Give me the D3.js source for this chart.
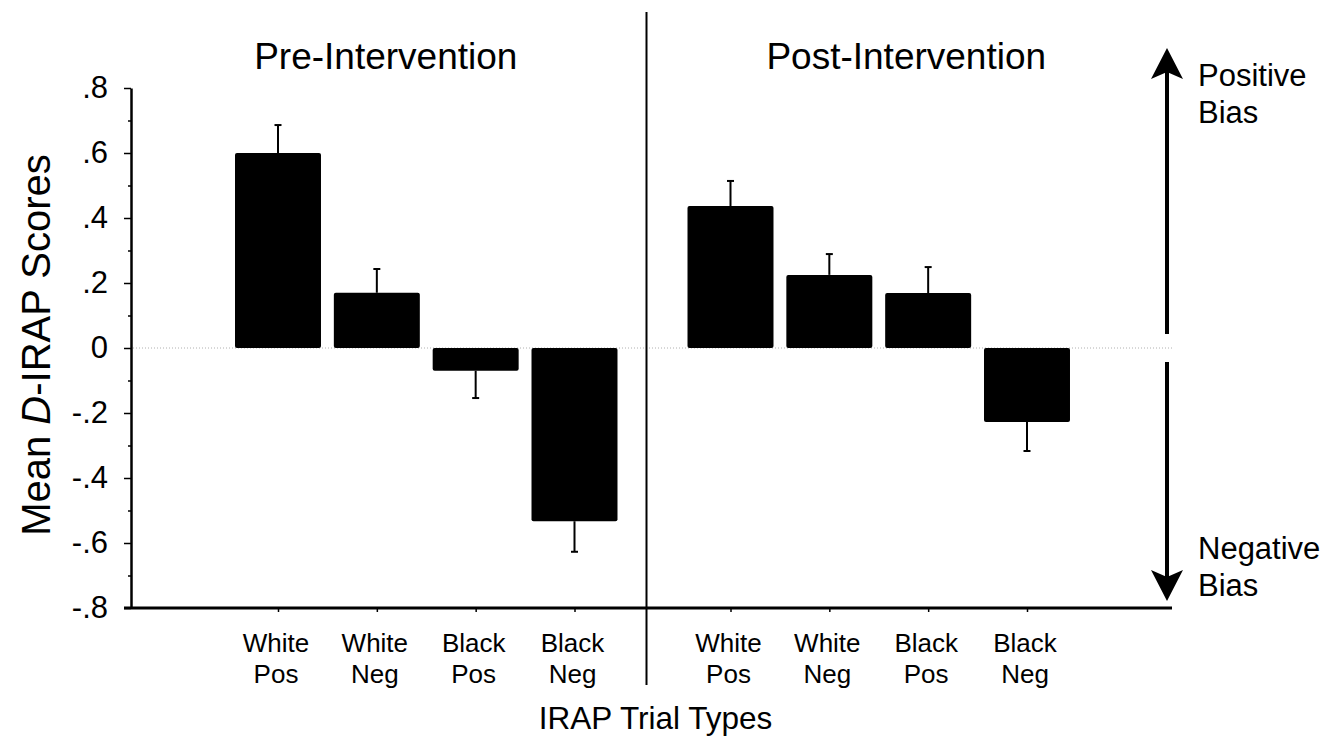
<!DOCTYPE html>
<html>
<head>
<meta charset="utf-8">
<script src="https://cdn.jsdelivr.net/npm/d3@7"></script>
<style>
  html, body { margin: 0; padding: 0; background: #fff; }
  svg { display: block; font-family: "Liberation Sans", Arial, sans-serif; }
</style>
</head>
<body>
<div id="chart"></div>
<script>
// Values
const phases = ['Pre-Intervention', 'Post-Intervention'];
const trialTypes = ['White Pos', 'White Neg', 'Black Pos', 'Black Neg'];
const preMeans = [0.60, 0.17, -0.07, -0.533];
const preErrors = [0.086, 0.073, 0.084, 0.094];
const postMeans = [0.437, 0.225, 0.169, -0.228];
const postErrors = [0.077, 0.064, 0.08, 0.089];
const yMajorTicks = [-0.8, -0.6, -0.4, -0.2, 0, 0.2, 0.4, 0.6, 0.8];
const yMinorTicks = [-0.7, -0.5, -0.3, -0.1, 0.1, 0.3, 0.5, 0.7];

const width = 1336;
const height = 745;

// layout
const plot = { left: 131, right: 1172, top: 88, bottom: 608 };
const divider = { x: 646.5, top: 12, bottom: 685 };
const phaseRanges = [[278, 574.5], [730.5, 1027]];
const arrowX = 1167;

const svg = d3.select('#chart')
  .append('svg')
  .attr('width', width)
  .attr('height', height);

const y = d3.scaleLinear()
  .domain([-0.8, 0.8])
  .range([plot.bottom, plot.top]);

// ".8", "0", "-.8" style labels with a plain hyphen
const fmt = d => d === 0 ? '0' : (d < 0 ? '-' : '') + d3.format('.1f')(Math.abs(d)).replace(/^0/, '');

// zero reference line (dotted)
svg.append('line')
  .attr('x1', plot.left + 2)
  .attr('x2', plot.right + 2)
  .attr('y1', y(0))
  .attr('y2', y(0))
  .attr('stroke', '#b0b0b0')
  .attr('stroke-width', 1)
  .attr('stroke-dasharray', '1,2');

// y axis
const yAxis = svg.append('g')
  .attr('transform', `translate(${plot.left},0)`)
  .call(d3.axisLeft(y)
    .tickValues(yMajorTicks)
    .tickSize(7)
    .tickSizeOuter(0)
    .tickPadding(16)
    .tickFormat(fmt));

yAxis.select('.domain').attr('stroke-width', 2.5);
yAxis.selectAll('.tick line').attr('stroke-width', 1.5);
yAxis.selectAll('.tick text')
  .attr('font-size', 31)
  .attr('font-family', '"Liberation Sans", Arial, sans-serif')
  .attr('fill', '#000');

svg.append('g')
  .attr('transform', `translate(${plot.left},0)`)
  .call(d3.axisLeft(y).tickValues(yMinorTicks).tickSize(3).tickSizeOuter(0).tickFormat(''))
  .call(g => g.select('.domain').remove())
  .selectAll('.tick line').attr('stroke-width', 1.5);

// x baseline
svg.append('line')
  .attr('x1', plot.left - 7)
  .attr('x2', plot.right)
  .attr('y1', y(-0.8))
  .attr('y2', y(-0.8))
  .attr('stroke', '#000')
  .attr('stroke-width', 3);

// divider between phases
svg.append('line')
  .attr('x1', divider.x)
  .attr('x2', divider.x)
  .attr('y1', divider.top)
  .attr('y2', divider.bottom)
  .attr('stroke', '#000')
  .attr('stroke-width', 2);

const phaseData = [
  { name: phases[0], means: preMeans, errors: preErrors, range: phaseRanges[0] },
  { name: phases[1], means: postMeans, errors: postErrors, range: phaseRanges[1] },
];

const panelEdges = [[plot.left, divider.x], [divider.x, plot.right]];

phaseData.forEach((phase, pi) => {
  const x = d3.scalePoint()
    .domain(trialTypes)
    .range(phase.range);
  const barWidth = x.step() * 0.87;

  const rows = trialTypes.map((t, i) => ({ type: t, mean: phase.means[i], err: phase.errors[i] }));

  // phase title
  svg.append('text')
    .attr('x', (panelEdges[pi][0] + panelEdges[pi][1]) / 2 - 3)
    .attr('y', 69)
    .attr('text-anchor', 'middle')
    .attr('font-size', 37)
    .text(phase.name);

  // ticks below the baseline
  svg.append('g')
    .attr('transform', `translate(0,${y(-0.8)})`)
    .call(d3.axisBottom(x).tickSize(4).tickSizeOuter(0).tickFormat(''))
    .call(g => g.select('.domain').remove())
    .selectAll('.tick line').attr('stroke-width', 1.5);

  // error bars (drawn first, bars on top)
  const eb = svg.append('g');
  eb.selectAll('line.whisker')
    .data(rows)
    .join('line')
    .attr('class', 'whisker')
    .attr('x1', d => x(d.type))
    .attr('x2', d => x(d.type))
    .attr('y1', d => y(d.mean))
    .attr('y2', d => y(d.mean + Math.sign(d.mean) * d.err))
    .attr('stroke', '#000')
    .attr('stroke-width', 2);
  eb.selectAll('line.cap')
    .data(rows)
    .join('line')
    .attr('class', 'cap')
    .attr('x1', d => x(d.type) - 3.5)
    .attr('x2', d => x(d.type) + 3.5)
    .attr('y1', d => y(d.mean + Math.sign(d.mean) * d.err))
    .attr('y2', d => y(d.mean + Math.sign(d.mean) * d.err))
    .attr('stroke', '#000')
    .attr('stroke-width', 2);

  svg.append('g')
    .selectAll('rect')
    .data(rows)
    .join('rect')
    .attr('x', d => x(d.type) - barWidth / 2)
    .attr('y', d => y(Math.max(0, d.mean)))
    .attr('width', barWidth)
    .attr('height', d => Math.abs(y(d.mean) - y(0)))
    .attr('rx', 2)
    .attr('fill', '#000');

  // two-line category labels
  const labels = svg.append('g')
    .selectAll('text')
    .data(rows)
    .join('text')
    .attr('text-anchor', 'middle')
    .attr('font-size', 26);
  labels.append('tspan')
    .attr('x', d => x(d.type) - 2)
    .attr('y', 652)
    .text(d => d.type.split(' ')[0]);
  labels.append('tspan')
    .attr('x', d => x(d.type) - 2)
    .attr('y', 683)
    .text(d => d.type.split(' ')[1]);
});

// axis titles
svg.append('text')
  .attr('x', (plot.left + plot.right) / 2 + 4)
  .attr('y', 729)
  .attr('text-anchor', 'middle')
  .attr('font-size', 31.5)
  .text('IRAP Trial Types');

const yTitle = svg.append('text')
  .attr('transform', `translate(50,${y(0) - 3}) rotate(-90)`)
  .attr('text-anchor', 'middle')
  .attr('font-size', 40);
yTitle.append('tspan').text('Mean ');
yTitle.append('tspan').attr('font-style', 'italic').text('D');
yTitle.append('tspan').text('-IRAP Scores');

// bias arrows
const arrowHead = 'M0,0 L16,31 L0,24 L-16,31 Z';
const upTip = y(0.8) - 40;
const downTip = y(-0.8) - 7;

svg.append('line')
  .attr('x1', arrowX).attr('x2', arrowX)
  .attr('y1', y(0) - 14).attr('y2', upTip + 24)
  .attr('stroke', '#000').attr('stroke-width', 4);
svg.append('path')
  .attr('d', arrowHead)
  .attr('transform', `translate(${arrowX},${upTip})`)
  .attr('fill', '#000');

svg.append('line')
  .attr('x1', arrowX).attr('x2', arrowX)
  .attr('y1', y(0) + 14).attr('y2', downTip - 24)
  .attr('stroke', '#000').attr('stroke-width', 4);
svg.append('path')
  .attr('d', arrowHead)
  .attr('transform', `translate(${arrowX},${downTip}) rotate(180)`)
  .attr('fill', '#000');

const biasLabels = [
  { lines: ['Positive', 'Bias'], y: 86 },
  { lines: ['Negative', 'Bias'], y: 559 },
];
biasLabels.forEach(b => {
  const t = svg.append('text').attr('font-size', 31);
  b.lines.forEach((line, i) => {
    t.append('tspan')
      .attr('x', arrowX + 31)
      .attr('y', b.y + i * 37)
      .text(line);
  });
});
</script>
</body>
</html>
